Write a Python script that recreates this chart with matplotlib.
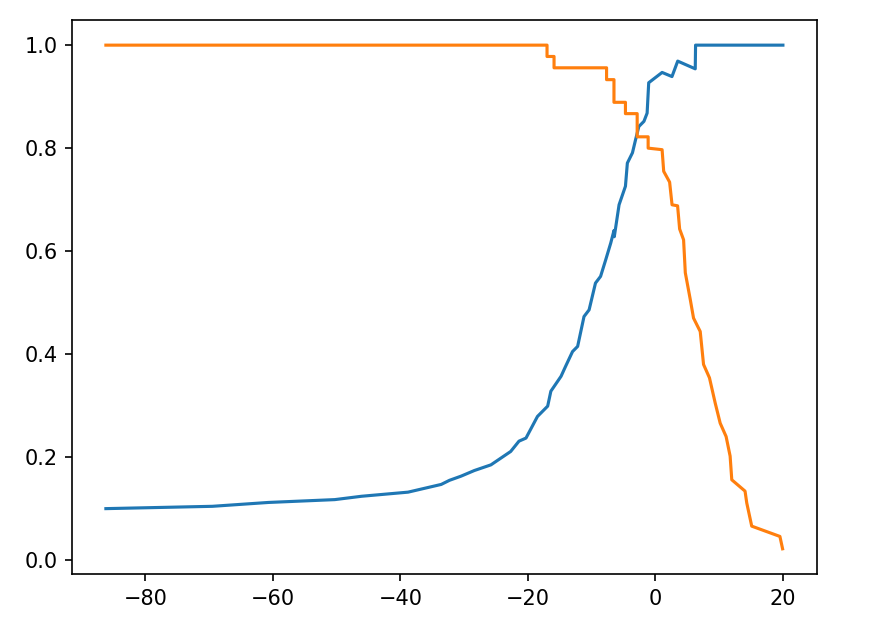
import matplotlib
matplotlib.use("Agg")
import matplotlib.pyplot as plt

# precision vs decision threshold (blue)
prec_thr = [-86.2, -69.5, -60.7, -50.3, -46.1, -38.8, -33.6, -32.3, -30.5, -28.4,
            -25.8, -22.7, -21.4, -20.3, -18.5, -16.9, -16.4, -14.8, -14.1, -13.0,
            -12.2, -11.2, -10.4, -9.4, -8.6, -7.8, -7.0, -6.5, -6.45, -5.7,
            -4.7, -4.4, -3.6, -3.1, -2.6, -1.8, -1.3, -1.05, 1.05, 2.6,
            3.5, 6.25, 6.3, 20.0]
precision = [0.100, 0.1045, 0.112, 0.1175, 0.124, 0.132, 0.147, 0.155, 0.163, 0.174,
             0.185, 0.211, 0.231, 0.237, 0.279, 0.299, 0.328, 0.357, 0.376, 0.405,
             0.415, 0.473, 0.486, 0.538, 0.551, 0.583, 0.616, 0.640, 0.628, 0.690,
             0.726, 0.771, 0.791, 0.817, 0.842, 0.852, 0.868, 0.927, 0.947, 0.939,
             0.969, 0.954, 1.0, 1.0]

# recall vs decision threshold (orange)
rec_thr = [-86.2, -17.0, -17.0, -15.9, -15.9, -7.66, -7.66, -6.5, -6.5, -4.7,
           -4.7, -2.86, -2.86, -1.14, -1.14, 1.05, 1.30, 2.23, 2.61, 3.48,
           3.80, 4.42, 4.69, 5.47, 5.98, 7.03, 7.55, 8.48, 9.38, 10.16,
           11.09, 11.72, 11.98, 14.06, 14.33, 15.11, 19.53, 19.95]
recall = [1.0, 1.0, 0.978, 0.978, 0.956, 0.956, 0.933, 0.933, 0.889, 0.889,
          0.867, 0.867, 0.822, 0.822, 0.800, 0.797, 0.755, 0.734, 0.690, 0.688,
          0.643, 0.622, 0.558, 0.506, 0.470, 0.444, 0.380, 0.354, 0.305, 0.266,
          0.240, 0.202, 0.156, 0.134, 0.111, 0.066, 0.046, 0.022]

fig = plt.figure(figsize=(5.8, 4.1467), dpi=150)
ax = fig.add_axes([0.0828, 0.0772, 0.856, 0.8907])
ax.plot(prec_thr, precision)
ax.plot(rec_thr, recall)
fig.savefig("out.png", dpi=150)
